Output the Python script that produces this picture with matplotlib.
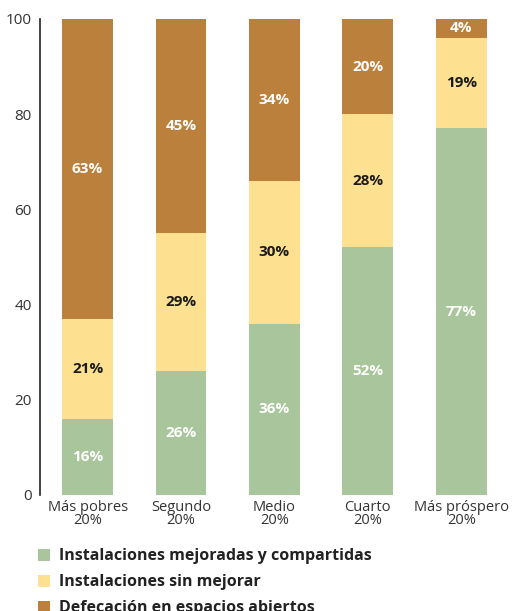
import matplotlib
matplotlib.use("Agg")
import matplotlib.pyplot as plt
import numpy as np

plt.rcParams['font.family'] = ['Open Sans', 'DejaVu Sans']

# quintiles of wealth
categories = ["Más pobres\n20%", "Segundo\n20%", "Medio\n20%", "Cuarto\n20%", "Más próspero\n20%"]
mejoradas = [16, 26, 36, 52, 77]
sin_mejorar = [21, 29, 30, 28, 19]
abiertos = [63, 45, 34, 20, 4]
series_names = ["Instalaciones mejoradas y compartidas",
                "Instalaciones sin mejorar",
                "Defecación en espacios abiertos"]
yticks = [0, 20, 40, 60, 80, 100]

c_green = "#a9c59b"
c_yellow = "#fde190"
c_brown = "#bb803b"

fig = plt.figure(figsize=(5.12, 6.11), dpi=100)
ax = fig.add_axes([0.078, 0.19, 0.916, 0.779])

x = np.arange(len(categories))
w = 0.545
b1 = ax.bar(x, mejoradas, w, color=c_green, label=series_names[0])
b2 = ax.bar(x, sin_mejorar, w, bottom=mejoradas, color=c_yellow, label=series_names[1])
bot3 = np.array(mejoradas) + np.array(sin_mejorar)
b3 = ax.bar(x, abiertos, w, bottom=bot3, color=c_brown, label=series_names[2])

ax.bar_label(b1, labels=[f"{v}%" for v in mejoradas], label_type='center',
             color='white', fontweight='bold', fontsize=11)
ax.bar_label(b2, labels=[f"{v}%" for v in sin_mejorar], label_type='center',
             color='#1a1a1a', fontweight='bold', fontsize=11)
ax.bar_label(b3, labels=[f"{v}%" for v in abiertos], label_type='center',
             color='white', fontweight='bold', fontsize=11)

ax.set_ylim(0, 100)
ax.set_xlim(-0.51, 4.51)
ax.set_yticks(yticks)
ax.set_xticks(x)
ax.set_xticklabels(categories, fontsize=10.5, color='#333333', linespacing=0.8)
ax.tick_params(axis='y', length=0, labelsize=11, colors='#333333', pad=6)
ax.tick_params(axis='x', length=0, pad=4)
for s in ['top', 'right', 'bottom']:
    ax.spines[s].set_visible(False)
ax.spines['left'].set_color('#222222')
ax.spines['left'].set_linewidth(1.2)

fig.legend(handles=[b1, b2, b3], loc='upper left', bbox_to_anchor=(0.062, 0.113),
           frameon=False, handlelength=0.75, handleheight=0.75, handletextpad=0.55,
           labelspacing=0.62, prop={'weight': 'bold', 'size': 11.5}, borderaxespad=0)
for t in fig.legends[0].get_texts():
    t.set_color('#222222')

fig.savefig("out.png", dpi=100)
